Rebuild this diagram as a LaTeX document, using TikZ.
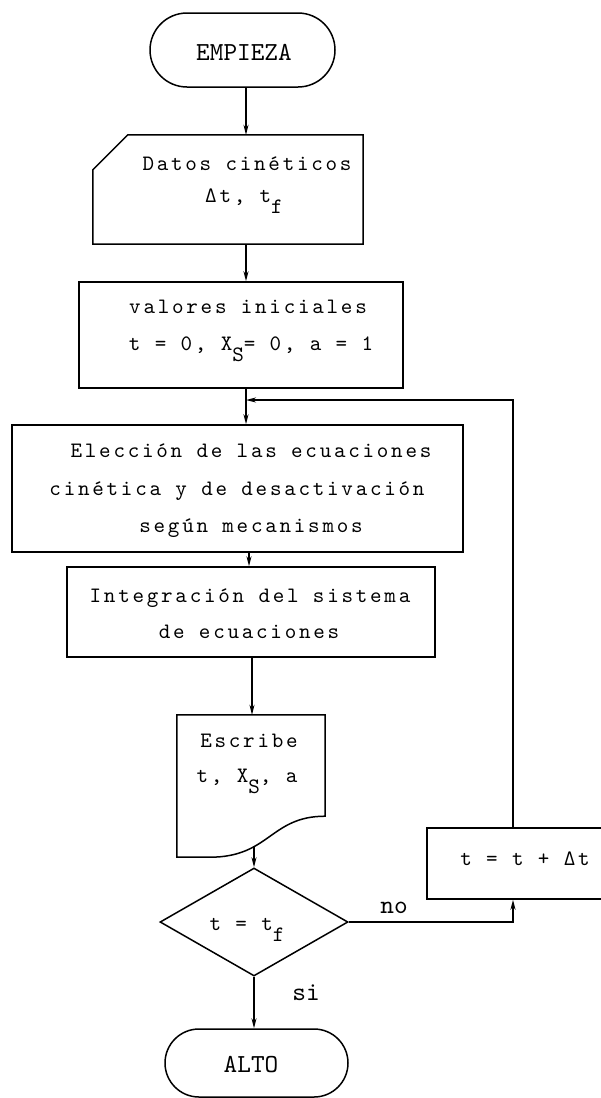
\documentclass[tikz,border=0pt]{standalone}
\usepackage{fontspec}
\newfontfamily\tw{lmmono10-regular.otf}[LetterSpace=12.5]
\newfontfamily\twbig{lmmono10-regular.otf}
\usetikzlibrary{shapes.geometric,arrows.meta,calc}
\newcommand{\lowsub}[1]{\raisebox{-11pt}{#1}}
\begin{document}
\begin{tikzpicture}[x=1pt,y=-1pt,
  line/.style={line width=1.5pt},
  arr/.style={line width=1.5pt,-{Stealth[length=10pt,width=5pt]}},
  box/.style={draw,line width=1.5pt,rectangle,inner sep=0pt},
  shapebox/.style={rectangle,inner sep=0pt},
  term/.style={draw,line width=1.5pt,rectangle,inner sep=0pt},
  txt/.style={inner sep=0pt,anchor=base,font=\tw\fontsize{22}{26}\selectfont},
  big/.style={inner sep=0pt,anchor=base,font=\twbig\fontsize{26}{30}\selectfont}]
\useasboundingbox (0,0) rectangle (601,1098);
\clip (0,0) rectangle (601,1098);
\fill[white] (0,0) rectangle (601,1098);

% shapes
\node[term,minimum width=185pt,minimum height=74pt,rounded corners=37pt] (emp) at (242.5,50) {};
\node[shapebox,minimum width=270pt,minimum height=109pt] (dat) at (228,189.5) {};
\draw[line] ($(dat.north west)+(0,35)$) -- ($(dat.north west)+(35,0)$) -- (dat.north east) -- (dat.south east) -- (dat.south west) -- cycle;
\node[box,minimum width=324pt,minimum height=106pt] (val) at (241,335) {};
\node[box,minimum width=451pt,minimum height=127pt] (ele) at (237.5,488.5) {};
\node[box,minimum width=368pt,minimum height=90pt] (int) at (251,612) {};
\node[shapebox,minimum width=148pt,minimum height=142pt] (esc) at (251,786) {};
\draw[line] (esc.south west) -- (esc.north west) -- (esc.north east) -- ($(esc.south east)+(0,-41)$)
  .. controls ($(esc.south east)+(-55,-41)$) and ($(esc.south west)+(93,0)$) .. ($(esc.south west)+(33,0)$) -- cycle;
\node[draw,line width=1.5pt,diamond,inner sep=0pt,minimum width=188pt,minimum height=108pt] (dia) at (254,922) {};
\node[term,minimum width=183pt,minimum height=68pt,rounded corners=34pt] (alto) at (256.5,1063) {};
\node[box,minimum width=183pt,minimum height=71pt] (inc) at (518.5,863.5) {};

% texts
\node[big] (tEmp) at (244,60) {EMPIEZA};
\node[txt] (tDat1) at (247,170) {Datos cinéticos};
\node[txt] (tDat2) at (244,202) {Δt, t\lowsub{f}};
\node[txt] (tVal1) at (248,313) {valores iniciales};
\node[txt] (tVal2) at (251,350) {t = 0, X\lowsub{S}= 0, a = 1};
\node[txt] (tEle1) at (251,457) {Elección de las ecuaciones};
\node[txt] (tEle2) at (237,495) {cinética y de desactivación};
\node[txt] (tEle3) at (251,532) {según mecanismos};
\node[txt] (tInt1) at (250,602) {Integración del sistema};
\node[txt] (tInt2) at (249,638) {de ecuaciones};
\node[txt] (tEsc1) at (249,747) {Escribe};
\node[txt] (tEsc2) at (247,782) {t, X\lowsub{S}, a};
\node[txt] (tDia) at (247,930) {t = t\lowsub{f}};
\node[txt] (tInc) at (525,865) {t = t + Δt};
\node[big] (tAlto) at (251,1072) {ALTO};
\node[big] (tNo) at (394,913) {no};
\node[big] (tSi) at (306,1000) {si};

% connectors
\coordinate (j) at (246,400);
\coordinate (c2) at (249,0);
\coordinate (c3) at (252,0);
\coordinate (c5) at (513,0);
\coordinate (wave) at (254,846);
\draw[arr] (emp.south -| j) -- (dat.north -| j);
\draw[arr] (dat.south -| j) -- (val.north -| j);
\draw[line] (val.south -| j) -- (j);
\draw[arr] (j) -- (ele.north -| j);
\draw[arr] (ele.south -| c2) -- (int.north -| c2);
\draw[arr] (int.south -| c3) -- (esc.north -| c3);
\draw[arr] (wave) -- (dia.north);
\draw[arr] (dia.south) -- (alto.north -| dia.south);
\draw[arr] (dia.east) -- (dia.east -| c5) -- (inc.south -| c5);
\draw[arr] (inc.north -| c5) -- (c5 |- j) -- (j);
\end{tikzpicture}
\end{document}
